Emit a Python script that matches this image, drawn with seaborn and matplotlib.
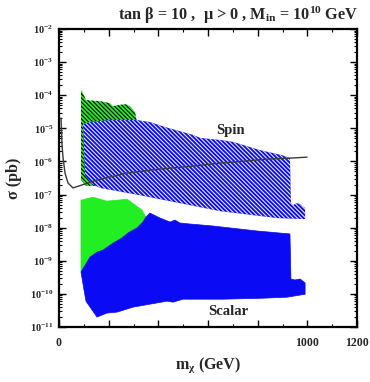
import numpy as np
import pandas as pd
import matplotlib
matplotlib.use("Agg")
import matplotlib.pyplot as plt
import seaborn as sns
from matplotlib.ticker import FixedLocator, LogLocator, NullFormatter, FixedFormatter

# ---------------- data ----------------
# Spin-dependent region (blue hatched): m_chi [GeV], log10(sigma/pb)
spin_m = [96.7, 124.8, 205, 314, 366, 427, 540, 568, 648, 701, 810, 898, 930,
          934, 942, 958, 971, 991, 991, 878, 648, 487, 326, 165, 132.9, 104.7]
spin_logsig = [-4.87, -4.81, -4.75, -4.75, -4.81, -4.96, -5.20, -5.29, -5.35, -5.41,
               -5.66, -5.81, -5.90, -7.26, -7.32, -7.26, -7.29, -7.41, -7.74, -7.71,
               -7.50, -7.26, -7.02, -6.80, -6.68, -6.41]

# Spin-dependent region (green hatched)
spin_g_m = [88.6, 92.6, 108.7, 165, 205, 217, 238, 266, 286, 306, 314,
            314, 157, 109, 88.6]
spin_g_logsig = [-3.87, -3.87, -4.15, -4.18, -4.24, -4.33, -4.30, -4.27, -4.33, -4.51, -4.81,
                 -4.90, -6.74, -6.74, -6.56]

# Scalar region (green solid)
scal_g_m = [88.6, 136.9, 193, 274, 334, 350, 338, 314, 278, 254, 217, 177, 153, 124.8, 88.6]
scal_g_logsig = [-7.17, -7.08, -7.20, -7.14, -7.47, -7.68, -7.83, -8.01, -8.16, -8.31,
                 -8.47, -8.68, -8.74, -8.89, -9.34]

# Scalar region (blue solid)
scal_m = [88.6, 124.8, 153, 177, 217, 254, 278, 314, 338, 350, 366, 407, 447, 467, 487,
          528, 620, 797, 930, 934, 950, 971, 991, 991, 918, 822, 660, 499, 459, 435, 298,
          234, 193, 153, 108.7, 100.7]
scal_logsig = [-9.34, -8.89, -8.74, -8.68, -8.47, -8.31, -8.16, -8.01, -7.83, -7.68, -7.56,
               -7.71, -7.83, -7.77, -7.86, -7.89, -7.95, -8.10, -8.19, -9.55, -9.58, -9.55,
               -9.67, -10.01, -10.10, -10.13, -10.16, -10.16, -10.25, -10.22, -10.40, -10.55,
               -10.58, -10.70, -10.22, -9.88]

# Experimental limit curve
lim_m = [8.1, 12.1, 16.1, 24.2, 36.2, 56.4, 104.7, 153, 274, 407, 540, 648, 701, 838, 930, 999]
lim_logsig = [-4.69, -5.50, -5.87, -6.35, -6.65, -6.80, -6.68, -6.56, -6.35, -6.23, -6.14,
              -6.05, -6.02, -5.93, -5.90, -5.87]

x_ticks = [0, 200, 400, 600, 800, 1000, 1200]
x_ticklabels = ["0", "", "", "", "", "1000", "1200"]
title = r"tan β = 10 ,  μ > 0 , M$_{\mathbf{in}}$ = 10$^{\mathbf{10}}$ GeV"

# ---------------- style ----------------
sns.set_theme(style="ticks")
plt.rcParams.update({
    "font.family": ["Liberation Serif", "DejaVu Serif"],
    "font.weight": "bold",
    "mathtext.fontset": "custom",
    "mathtext.rm": "Liberation Serif:bold",
    "mathtext.it": "Liberation Serif:italic:bold",
    "mathtext.bf": "Liberation Serif:bold",
    "mathtext.default": "regular",
    "axes.linewidth": 1.6,
    "axes.edgecolor": "black",
    "hatch.linewidth": 0.8,
})

BLUE = "#0a0af5"
GREEN = "#22ee22"

fig = plt.figure(figsize=(3.70, 3.82), dpi=100)
ax = fig.add_axes([59 / 370, 55 / 382, 298 / 370, 298 / 382])


def sig(vals):
    return np.power(10.0, np.asarray(vals))


HATCH = "\\" * 8
# hatched spin regions
ax.fill(spin_g_m, sig(spin_g_logsig), facecolor=GREEN, edgecolor="black",
        hatch=HATCH, linewidth=0, zorder=2)
ax.fill(spin_m, sig(spin_logsig), facecolor=BLUE, edgecolor="#e8e8ff",
        hatch=HATCH, linewidth=0, zorder=3)
# solid scalar regions
ax.fill(scal_g_m, sig(scal_g_logsig), facecolor=GREEN, edgecolor=GREEN,
        linewidth=0.5, zorder=2)
ax.fill(scal_m, sig(scal_logsig), facecolor=BLUE, edgecolor=BLUE,
        linewidth=0.5, zorder=3)

lim_df = pd.DataFrame({"m": lim_m, "sigma": sig(lim_logsig)})
sns.lineplot(data=lim_df, x="m", y="sigma", sort=False, ax=ax, color="#3a3a3a",
             linewidth=1.0, zorder=4)

ax.set_yscale("log")
ax.set_xlim(0, 1200)
ax.set_ylim(1e-11, 1e-2)

ax.xaxis.set_major_locator(FixedLocator(x_ticks))
ax.xaxis.set_major_formatter(FixedFormatter(x_ticklabels))
ax.xaxis.set_minor_locator(FixedLocator([100, 300, 500, 700, 900, 1100]))
ax.yaxis.set_major_locator(LogLocator(base=10, numticks=20))
ax.yaxis.set_minor_locator(LogLocator(base=10, subs=np.arange(2, 10), numticks=100))
ax.yaxis.set_minor_formatter(NullFormatter())

ax.tick_params(which="both", direction="in", top=True, right=True, color="black")
ax.tick_params(which="major", length=5, width=1.0)
ax.tick_params(which="minor", length=2.5, width=0.8)
ax.tick_params(axis="x", labelsize=8.5, pad=7)
ax.tick_params(axis="y", labelsize=7.5, pad=4)
for lab in ax.get_xticklabels() + ax.get_yticklabels():
    lab.set_fontweight("bold")

ax.set_xlabel(r"m$_{\chi}$ (GeV)", fontsize=11.5, fontweight="bold", labelpad=5)
ax.set_ylabel("σ (pb)", fontsize=11.5, fontweight="bold", labelpad=6)

ax.text(689, 10 ** -5.08, "Spin", fontsize=10.5, fontweight="bold", ha="center", va="center", zorder=5)
ax.text(680, 10 ** -10.52, "Scalar", fontsize=10.5, fontweight="bold", ha="center", va="center", zorder=5)

fig.text(358 / 370, 1 - 15 / 382, title, fontsize=11.7, fontweight="bold", ha="right", va="center")

fig.savefig("out.png", dpi=100)
